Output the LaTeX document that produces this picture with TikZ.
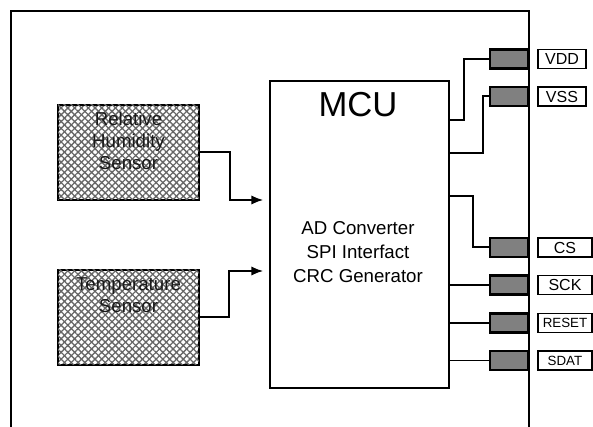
\documentclass[tikz,border=0pt]{standalone}
\usepackage{fontspec}
\setmainfont{Liberation Sans}
\usetikzlibrary{arrows.meta,patterns.meta,positioning}

\begin{document}
\begin{tikzpicture}[x=0.75pt,y=-0.75pt,
	frame/.style={line width=1.5pt},
	sensor/.style={draw,line width=2pt,inner sep=0pt,minimum width=105.75pt,minimum height=71.25pt,
		pattern={Lines[angle=45,distance=3.6pt,line width=1pt]},pattern color=black!60,
		postaction={pattern={Lines[angle=-45,distance=3.6pt,line width=1pt]},pattern color=black!60}},
	sensortext/.style={inner sep=0pt,align=center,text=black!90,font=\fontsize{14}{16.5}\selectfont},
	mcubox/.style={draw,line width=1.6pt,inner sep=0pt,minimum width=134.25pt,minimum height=230.25pt},
	pin/.style={draw,line width=1.8pt,fill=black!50,inner sep=0pt,minimum width=28.5pt,minimum height=14.25pt},
	pinlabel/.style={draw,line width=1.4pt,inner sep=0pt,minimum height=14.25pt,font=\fontsize{12}{13}\selectfont},
	wire/.style={line width=1.5pt},
	sig/.style={wire,-{Latex[length=9pt,width=7pt]},shorten >=5pt}]
	\useasboundingbox (0,0) rectangle (593,427);
	
	% outer frame, open at the bottom
	\draw[frame] (11,427) -- (11,11) -- (529,11) -- (529,427);
	
	% sensors
	\node[sensor] (hum) at (128.5,152.5) {};
	\node[sensor] (temp) at (128.5,317.5) {};
	\node[sensortext,anchor=north] (humtext) at (128.5,112) {Relative\\Humidity\\Sensor};
	\node[sensortext,anchor=north] (temptext) at (128.5,277) {Temperature\\Sensor};
	
	% MCU
	\node[mcubox] (mcu) at (359.5,234.5) {};
	\node[inner sep=0pt,anchor=north,font=\fontsize{26}{30}\selectfont] (mcutitle) at (358,92) {MCU};
	\node[inner sep=0pt,anchor=north,align=center,font=\fontsize{14}{18}\selectfont] (mcubody) at (358,221) {AD Converter\\SPI Interfact\\CRC Generator};
	
	\coordinate (humin) at (270,200);
	\coordinate (tempin) at (270,271);
	\coordinate (vddout) at (449,120);
	\coordinate (vssout) at (449,153);
	\coordinate (csout) at (449,196);
	
	% pins
	\node[pin] (vdd) at (509,59) {};
	\node[pin] (vss) at (509,96.5) {};
	\node[pin] (cs) at (509,247.5) {};
	\node[pin] (sck) at (509,285) {};
	\node[pin] (reset) at (509,323) {};
	\node[pin] (sdat) at (509,360.5) {};
	
	\node[pinlabel,minimum width=36pt] (vddlabel) at (562,59) {VDD};
	\node[pinlabel,minimum width=36pt] (vsslabel) at (562,96.5) {VSS};
	\node[pinlabel,minimum width=40.5pt] (cslabel) at (565,247.5) {CS};
	\node[pinlabel,minimum width=40.5pt] (scklabel) at (565,285) {SCK};
	\node[pinlabel,minimum width=40.5pt,font=\fontsize{10}{12}\selectfont] (resetlabel) at (565,323) {RESET};
	\node[pinlabel,minimum width=40.5pt,font=\fontsize{10}{12}\selectfont] (sdatlabel) at (565,360.5) {SDAT};
	
	% connections
	\draw[sig] (hum.east) -- ++(30,0) |- (humin);
	\draw[sig] (temp.east) -- ++(29,0) |- (tempin);
	
	\draw[wire] (vddout) -- ++(15,0) |- (vdd.west);
	\draw[wire] (vssout) -- ++(34,0) |- (vss.west);
	\draw[wire] (csout) -- ++(24,0) |- (cs.west);
	\draw[line width=2pt] (mcu.east |- sck) -- (sck.west);
	\draw[line width=1.1pt] (mcu.east |- reset) -- (reset.west);
	\draw[line width=1.1pt] (mcu.east |- sdat) -- (sdat.west);
\end{tikzpicture}
\end{document}
